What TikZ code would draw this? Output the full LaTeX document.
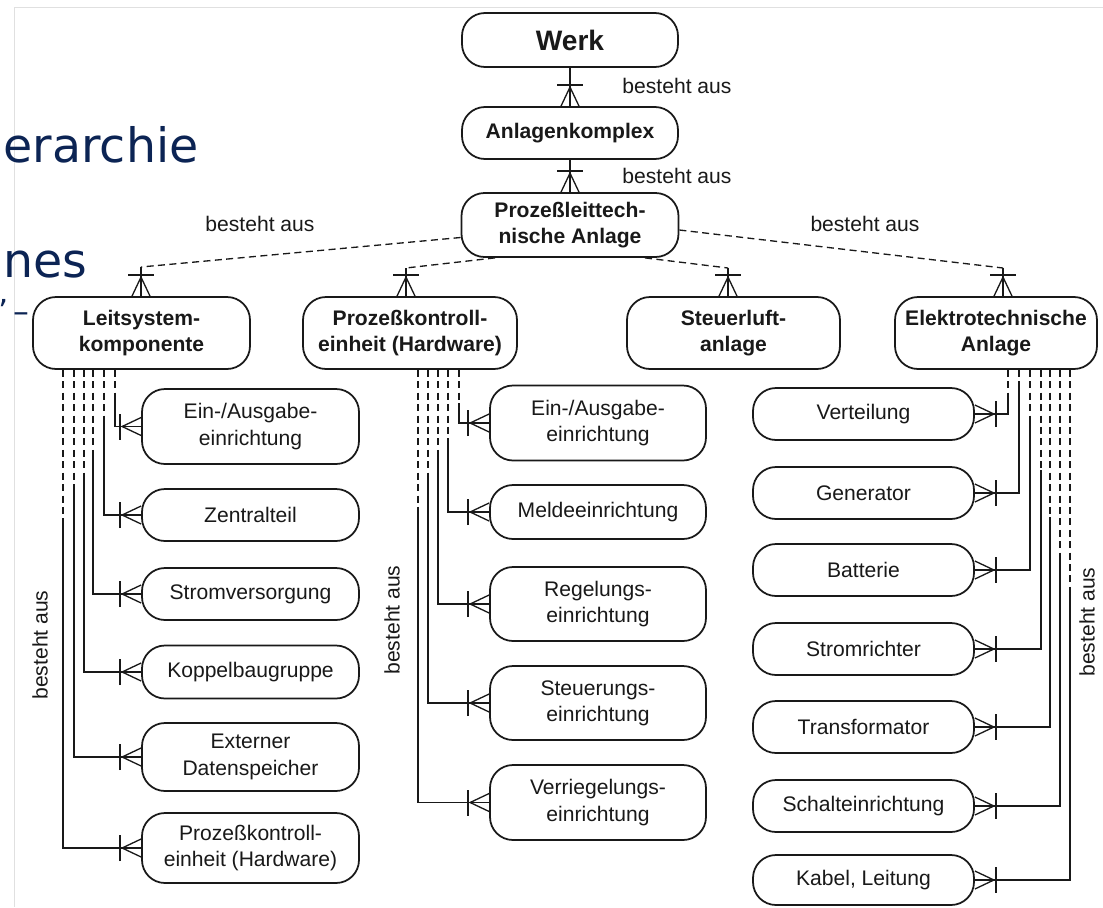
\documentclass[tikz,border=0pt]{standalone}
\usepackage{fontspec}
\setmainfont{Liberation Sans}
\newfontfamily\slidefont{DejaVu Sans}
\definecolor{slideblue}{RGB}{12,36,84}

\tikzset{
  box/.style={draw, line width=1pt, fill=white, rounded corners=0.46cm, align=center,
    inner sep=1pt, font=\fontsize{12}{15}\selectfont},
  wd/.style={minimum width=#1*0.02cm},
  ht/.style={minimum height=#1*0.02cm},
  opt/.style={dash pattern=on 4pt off 2.5pt},
  lbl/.style={font=\fontsize{12}{14}\selectfont, inner sep=1pt},
  crow/.pic={
    \draw (0,-9) -- (19,0) -- (0,9);
    \draw (21,-13) -- (21,13);
  }
}

\begin{document}
\begin{tikzpicture}[x=0.02cm, y=-0.02cm, line width=0.75pt, color=black!90]
  \useasboundingbox (0,0) rectangle (1103,907);
  % slide behind the scan
  \draw[black!12, line width=0.5pt] (14,907) -- (14,7) -- (1103,7);
  \node[anchor=base west, inner sep=0, slideblue] (t1) at (3,162) {\slidefont\fontsize{27}{32}\selectfont erarchie};
  \node[anchor=base west, inner sep=0, slideblue] (t2) at (3,277) {\slidefont\fontsize{27}{32}\selectfont nes};
  \node[anchor=base west, inner sep=0, slideblue] (t3) at (-2,322) {\slidefont\fontsize{18}{20}\selectfont ’\,–};

  % top of the hierarchy
  \node[box, wd=216, ht=54, font=\fontsize{16}{18}\selectfont\bfseries] (werk) at (570,40) {Werk};
  \node[box, wd=216, ht=52, font=\fontsize{12}{15}\selectfont\bfseries] (ak) at (570,133) {Anlagenkomplex};
  \node[box, wd=217, ht=64, font=\fontsize{12}{15}\selectfont\bfseries] (plt) at (570,225) {Prozeßleittech-\\nische Anlage};

  \node[box, wd=217, ht=72, font=\fontsize{12}{15}\selectfont\bfseries] (ls) at (141.5,333) {Leitsystem-\\komponente};
  \node[box, wd=214, ht=72, font=\fontsize{12}{15}\selectfont\bfseries] (pk) at (410,333) {Prozeßkontroll-\\einheit (Hardware)};
  \node[box, wd=213, ht=72, font=\fontsize{12}{15}\selectfont\bfseries] (sl) at (733.5,333) {Steuerluft-\\anlage};
  \node[box, wd=202, ht=72, font=\fontsize{12}{15}\selectfont\bfseries] (ea) at (996,333) {Elektrotechnische\\Anlage};

  \draw (werk.south) -- (ak.north);
  \pic[rotate=90] at (ak.north) {crow};
  \draw (ak.south) -- (plt.north);
  \pic[rotate=90] at (plt.north) {crow};
  \node[lbl] (b1) at (677,86) {besteht aus};
  \node[lbl] (b2) at (677,176) {besteht aus};

  % second level, optional relations
  \coordinate (kls) at (141,267);
  \coordinate (kpk) at (406,268);
  \coordinate (ksl) at (728,268);
  \coordinate (kea) at (1003,268);
  \draw[opt] ([yshift=-0.25cm]plt.west) -- (kls);
  \draw[opt] (plt.south -| 495,0) -- (kpk);
  \draw[opt] (plt.south -| 645,0) -- (ksl);
  \draw[opt] ([yshift=-0.1cm]plt.east) -- (kea);
  \foreach \k/\b in {kls/ls, kpk/pk, ksl/sl, kea/ea} {
    \draw (\k) -- (\k |- \b.north);
    \pic[rotate=90] at (\k |- \b.north) {crow};
  }
  \node[lbl] (b3) at (260,224) {besteht aus};
  \node[lbl] (b4) at (865,224) {besteht aus};

  % Leitsystemkomponente
  \node[box, wd=217, ht=75] (l1) at (250.5,426.5) {Ein-/Ausgabe-\\einrichtung};
  \node[box, wd=217, ht=52] (l2) at (250.5,515) {Zentralteil};
  \node[box, wd=217, ht=52] (l3) at (250.5,594) {Stromversorgung};
  \node[box, wd=217, ht=53] (l4) at (250.5,672) {Koppelbaugruppe};
  \node[box, wd=217, ht=68] (l5) at (250.5,757) {Externer\\Datenspeicher};
  \node[box, wd=217, ht=70] (l6) at (250.5,848) {Prozeßkontroll-\\einheit (Hardware)};
  \foreach \i/\xx/\yy in {1/115/397, 2/104/420, 3/93/457, 4/84/473, 5/74/490, 6/63/523} {
    \draw[opt] (ls.south -| \xx,0) -- (\xx,\yy);
    \draw (\xx,\yy) |- (l\i.west);
    \pic[rotate=180] at (l\i.west) {crow};
  }
  \node[lbl, rotate=90] (b5) at (40,645) {besteht aus};

  % Prozesskontrolleinheit
  \node[box, wd=216, ht=75] (m1) at (598,423) {Ein-/Ausgabe-\\einrichtung};
  \node[box, wd=216, ht=54] (m2) at (598,512) {Meldeeinrichtung};
  \node[box, wd=216, ht=74] (m3) at (598,604) {Regelungs-\\einrichtung};
  \node[box, wd=216, ht=74] (m4) at (598,703) {Steuerungs-\\einrichtung};
  \node[box, wd=216, ht=75] (m5) at (598,802.5) {Verriegelungs-\\einrichtung};
  \foreach \i/\xx/\yy in {1/459/403, 2/448/438, 3/438/452, 4/428/480, 5/418/507} {
    \draw[opt] (pk.south -| \xx,0) -- (\xx,\yy);
    \draw (\xx,\yy) |- (m\i.west);
    \pic[rotate=180] at (m\i.west) {crow};
  }
  \node[lbl, rotate=90] (b6) at (392,620) {besteht aus};

  % Elektrotechnische Anlage
  \node[box, wd=221, ht=52] (r1) at (863.5,414) {Verteilung};
  \node[box, wd=221, ht=52] (r2) at (863.5,493) {Generator};
  \node[box, wd=221, ht=52] (r3) at (863.5,570) {Batterie};
  \node[box, wd=221, ht=52] (r4) at (863.5,649) {Stromrichter};
  \node[box, wd=221, ht=52] (r5) at (863.5,727) {Transformator};
  \node[box, wd=221, ht=52] (r6) at (863.5,806) {Schalteinrichtung};
  \node[box, wd=221, ht=50] (r7) at (863.5,880) {Kabel, Leitung};
  \foreach \i/\xx/\yy in {1/1008/393, 2/1019/382, 3/1030/422, 4/1041/470, 5/1050/517, 6/1060/560, 7/1070/590} {
    \draw[opt] (ea.south -| \xx,0) -- (\xx,\yy);
    \draw (\xx,\yy) |- (r\i.east);
    \pic at (r\i.east) {crow};
  }
  \node[lbl, rotate=90] (b7) at (1087,622) {besteht aus};
\end{tikzpicture}
\end{document}
